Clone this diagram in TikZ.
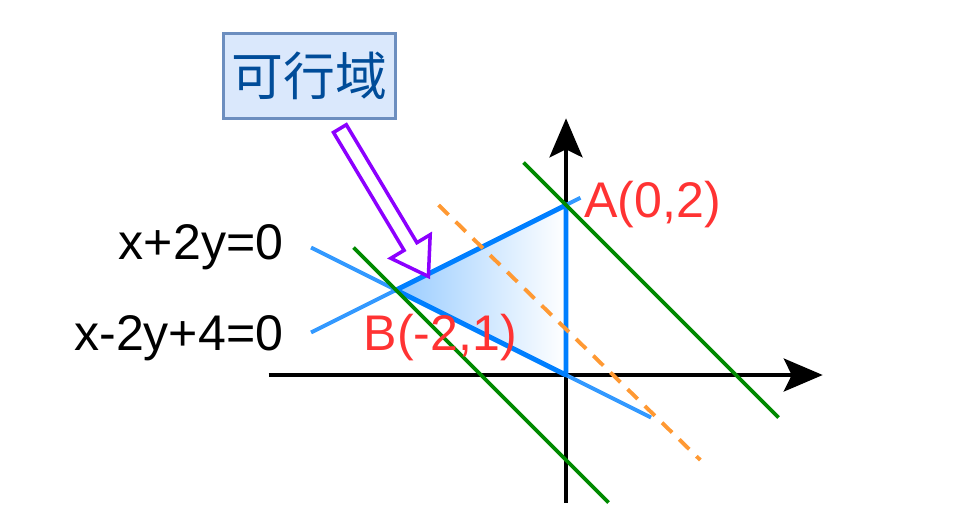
\documentclass[tikz,border=0pt]{standalone}
\usepackage{fontspec}
\setmainfont{Liberation Sans}
\newfontfamily\cjk{Noto Sans CJK SC}
\usetikzlibrary{arrows.meta,calc,positioning}

\definecolor{lineblue}{RGB}{51,153,255}
\definecolor{edgeblue}{RGB}{0,127,255}
\definecolor{fillblue}{RGB}{153,204,255}
\definecolor{linegreen}{RGB}{0,138,0}
\definecolor{dashorange}{RGB}{255,153,51}
\definecolor{ptred}{RGB}{255,51,51}
\definecolor{boxfill}{RGB}{218,232,252}
\definecolor{boxdraw}{RGB}{108,142,191}
\definecolor{boxtext}{RGB}{0,76,153}
\definecolor{pointer}{RGB}{140,0,255}

\tikzset{
  axis/.style={line width=2.2pt,-{Stealth[length=0.78cm,width=0.66cm,inset=0.16cm]}},
  bound/.style={lineblue,line width=2.2pt},
  edge/.style={edgeblue,line width=2.8pt},
  level/.style={linegreen,line width=2.2pt},
  target/.style={dashorange,line width=2.2pt,dash pattern=on 0.28cm off 0.2cm},
  eqlabel/.style={inner sep=0pt,font=\fontsize{28.5}{30}\selectfont},
  ptlabel/.style={inner sep=0pt,text=ptred,font=\fontsize{28.5}{30}\selectfont},
  regionbox/.style={draw=boxdraw,fill=boxfill,line width=2pt,text=boxtext,
    minimum width=3.44cm,minimum height=1.7cm,font=\cjk\fontsize{29.5}{31}\selectfont}
}

\begin{document}
\begin{tikzpicture}[x=1.7cm,y=1.7cm]
	\useasboundingbox (-6.659,-1.765) rectangle (4.635,4.412);

	\coordinate (O) at (0,0);
	\coordinate (A) at (0,2);
	\coordinate (B) at (-2,1);

	% axes
	\draw [axis] (-3.5,0)--(3.02,0);
	\draw [axis] (0,-1.5)--(0,3.02);

	% constraint lines
	\coordinate (L1s) at (-3,1.5);
	\coordinate (L1e) at (1,-0.5);
	\coordinate (L2s) at (-3,0.5);
	\coordinate (L2e) at (0.17,2.085);
	\draw [bound] (L1s)--(L1e);
	\draw [bound] (L2s)--(L2e);

	% feasible region
	\shade [left color=fillblue,right color=white] (B)--(A)--(O)--cycle;
	\draw [edge,line join=round] (B)--(A)--(O)--cycle;

	% level lines
	\draw [level] (-2.5,1.5)--(0.5,-1.5);
	\draw [level] (-0.5,2.5)--(2.5,-0.5);
	\draw [target] (-1.5,2)--(1.58,-1);

	\node [eqlabel, left=0.55cm of L1s] (eq1) {x+2y=0};
	\node [eqlabel, left=0.55cm of L2s, yshift=-0.12cm] (eq2) {x-2y+4=0};
	\node [ptlabel, right=0.36cm of A] (Alabel) {A(0,2)};
	\node [ptlabel] (Blabel) at ($(B)+(0.52,-0.56)$) {B(-2,1)};

	% label and pointer
	\node [regionbox] (region) at (-3.02,3.52) {可行域};
	\coordinate (tail) at ($(region.south)+(0.36,-0.1)$);
	\coordinate (tip) at ($(B)!0.19!(A)$);
	\begin{scope}[shift={(tail)},rotate=-59.1]
		\draw [pointer,fill=white,line width=2pt,line join=miter]
			(0,0.088)--(1.617,0.088)--(1.617,0.27)--(2.027,0)--(1.617,-0.27)--(1.617,-0.088)--(0,-0.088)--cycle;
	\end{scope}
\end{tikzpicture}
\end{document}
